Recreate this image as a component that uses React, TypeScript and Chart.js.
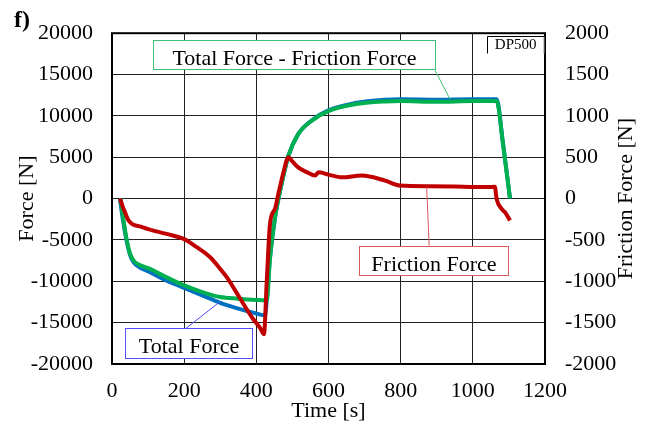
import React, { useEffect, useRef } from 'react';
import { Chart, registerables } from 'chart.js';

Chart.register(...registerables);

// ---- data ----
const totalTime = [22, 30, 40, 50, 60, 80, 105, 150, 200, 250, 300, 350, 400, 420, 425, 431, 438, 452, 470, 489, 516, 553, 601, 673, 757, 800, 900, 1000, 1066, 1083, 1103];
const totalForce = [0, -2500, -5000, -6800, -7700, -8400, -8900, -9900, -10800, -11700, -12600, -13300, -13900, -14100, -14000, -11000, -7100, -2260, 1780, 5200, 7800, 9450, 10700, 11550, 11950, 12000, 11950, 12000, 12000, 6900, 0];

const netTime = [24, 30, 40, 50, 60, 80, 105, 150, 200, 250, 300, 350, 400, 425, 429, 438, 452, 470, 489, 516, 553, 601, 673, 757, 800, 900, 1000, 1066, 1083, 1103];
const netForce = [0, -2000, -4800, -6650, -7500, -8100, -8500, -9500, -10500, -11300, -11900, -12100, -12250, -12300, -12300, -7100, -2260, 1780, 5200, 7800, 9400, 10600, 11400, 11750, 11800, 11700, 11800, 11800, 6800, 0];

const frictionTime = [22, 30, 36, 45, 55, 80, 100, 151, 200, 235, 272, 300, 318, 340, 364, 390, 410, 421, 429, 438, 452, 461, 474, 489, 498, 516, 540, 563, 572, 600, 637, 692, 757, 798, 881, 950, 1011, 1040, 1061, 1066, 1080, 1090, 1103];
const frictionForce = [0, -100, -165, -260, -305, -340, -370, -427, -490, -588, -709, -850, -950, -1100, -1272, -1450, -1560, -1640, -990, -300, -120, 57, 298, 499, 459, 378, 320, 278, 318, 290, 257, 278, 217, 157, 149, 145, 140, 140, 143, -4, -125, -170, -266];

const xTickValues = [0, 200, 400, 600, 800, 1000, 1200];
const forceTickValues = [-20000, -15000, -10000, -5000, 0, 5000, 10000, 15000, 20000];
const frictionTickValues = [-2000, -1500, -1000, -500, 0, 500, 1000, 1500, 2000];

const seriesNames = ['Friction Force', 'Total Force - Friction Force', 'Total Force'];

// annotation callouts, in data units of the x / left-y scales
const callouts = [
  { text: 'Total Force - Friction Force', color: '#3fbf75', box: [114, 895, 19155, 15614], leader: [895, 15530, 937, 12000] },
  { text: 'Total Force', color: '#4f4fff', box: [36, 387, -15686, -19312], leader: [205, -15686, 299, -12471] },
  { text: 'Friction Force', color: '#d85a5a', box: [685, 1098, -5704, -9245], leader: [879, -5704, 872, 1450] },
];

const FONT = '"Liberation Serif", "Times New Roman", serif';

const toPts = (xs: number[], ys: number[]) => xs.map((x, i) => ({ x, y: ys[i] }));

const decorPlugin = {
  id: 'decor',
  afterDatasetsDraw(chart: any) {
    const { ctx, chartArea, scales } = chart;
    const sx = scales.x;
    const sy = scales.y;
    ctx.save();
    // plot frame
    ctx.strokeStyle = '#000';
    ctx.lineWidth = 2;
    ctx.strokeRect(chartArea.left, chartArea.top, chartArea.right - chartArea.left, chartArea.bottom - chartArea.top);

    // callouts
    for (const c of callouts) {
      const [bx0, bx1, by0, by1] = c.box;
      const [lx0, ly0, lx1, ly1] = c.leader;
      ctx.lineWidth = 1;
      ctx.strokeStyle = c.color;
      ctx.beginPath();
      ctx.moveTo(sx.getPixelForValue(lx0), sy.getPixelForValue(ly0));
      ctx.lineTo(sx.getPixelForValue(lx1), sy.getPixelForValue(ly1));
      ctx.stroke();
      const x0 = Math.round(sx.getPixelForValue(bx0)) + 0.5;
      const x1 = Math.round(sx.getPixelForValue(bx1)) + 0.5;
      const y0 = Math.round(sy.getPixelForValue(by0)) + 0.5;
      const y1 = Math.round(sy.getPixelForValue(by1)) + 0.5;
      ctx.fillStyle = '#fff';
      ctx.fillRect(x0, y0, x1 - x0, y1 - y0);
      ctx.strokeRect(x0, y0, x1 - x0, y1 - y0);
      ctx.fillStyle = '#000';
      ctx.font = `22px ${FONT}`;
      ctx.textAlign = 'center';
      ctx.textBaseline = 'alphabetic';
      ctx.fillText(c.text, (x0 + x1) / 2, (y0 + y1) / 2 + 9.5);
    }

    // DP500 tag
    const tx0 = Math.round(sx.getPixelForValue(1039)) + 0.5;
    const tx1 = chartArea.right - 1;
    const ty0 = Math.round(sy.getPixelForValue(19638)) + 0.5;
    const ty1 = Math.round(sy.getPixelForValue(17584)) + 0.5;
    ctx.lineWidth = 1;
    ctx.strokeStyle = '#999';
    ctx.beginPath();
    ctx.moveTo(tx1, ty0);
    ctx.lineTo(tx1, ty1);
    ctx.stroke();
    ctx.strokeStyle = '#000';
    ctx.beginPath();
    ctx.moveTo(tx0, ty1);
    ctx.lineTo(tx0, ty0);
    ctx.lineTo(tx1, ty0);
    ctx.stroke();
    ctx.fillStyle = '#000';
    ctx.font = `15px ${FONT}`;
    ctx.textAlign = 'left';
    ctx.textBaseline = 'middle';
    ctx.fillText('DP500', sx.getPixelForValue(1061), sy.getPixelForValue(18550));

    // panel letter
    ctx.font = `bold 24px ${FONT}`;
    ctx.textAlign = 'left';
    ctx.textBaseline = 'alphabetic';
    ctx.fillText('f)', 14, 27);

    // right axis title (reads bottom to top)
    const r = scales.y1;
    ctx.save();
    ctx.translate(r.right - 26, (chartArea.top + chartArea.bottom) / 2);
    ctx.rotate(-Math.PI / 2);
    ctx.font = `22px ${FONT}`;
    ctx.textAlign = 'center';
    ctx.textBaseline = 'middle';
    ctx.fillText('Friction Force [N]', 0, 0);
    ctx.restore();

    ctx.restore();
  },
};

export default function App() {
  const ref = useRef<HTMLCanvasElement | null>(null);

  useEffect(() => {
    document.body.style.margin = '0';
    const canvas = ref.current;
    if (!canvas) return;
    const tickFont = { family: FONT, size: 22 };
    const chart = new Chart(canvas, {
      type: 'line',
      data: {
        datasets: [
          {
            label: seriesNames[0],
            data: toPts(frictionTime, frictionForce),
            yAxisID: 'y1',
            borderColor: '#c00000',
            borderWidth: 4,
            pointRadius: 0,
            cubicInterpolationMode: 'monotone',
          },
          {
            label: seriesNames[1],
            data: toPts(netTime, netForce),
            yAxisID: 'y',
            borderColor: '#00b050',
            borderWidth: 4,
            pointRadius: 0,
            cubicInterpolationMode: 'monotone',
          },
          {
            label: seriesNames[2],
            data: toPts(totalTime, totalForce),
            yAxisID: 'y',
            borderColor: '#0070c0',
            borderWidth: 4,
            pointRadius: 0,
            cubicInterpolationMode: 'monotone',
          },
        ],
      },
      options: {
        animation: false,
        responsive: false,
        layout: { padding: { top: 33, left: 0, right: 0, bottom: 0 } },
        plugins: { legend: { display: false }, tooltip: { enabled: false } },
        scales: {
          x: {
            type: 'linear',
            min: 0,
            max: 1200,
            afterBuildTicks: (s: any) => { s.ticks = xTickValues.map((v) => ({ value: v })); },
            afterFit: (s: any) => { s.height = 63; },
            ticks: { font: tickFont, color: '#000', padding: 14, maxRotation: 0, callback: (v: any) => String(v) },
            grid: { color: '#222', lineWidth: 1, drawTicks: false },
            border: { display: false },
            title: { display: true, text: 'Time [s]', font: tickFont, color: '#000', padding: { top: 0, bottom: 3 } },
          },
          y: {
            position: 'left',
            min: -20000,
            max: 20000,
            afterBuildTicks: (s: any) => { s.ticks = forceTickValues.map((v) => ({ value: v })); },
            afterFit: (s: any) => { s.width = 112; },
            ticks: { font: tickFont, color: '#000', padding: 19, callback: (v: any) => String(v) },
            grid: { color: '#222', lineWidth: 1, drawTicks: false },
            border: { display: false },
            title: { display: true, text: 'Force [N]', font: tickFont, color: '#000', padding: { top: 14, bottom: 0 } },
          },
          y1: {
            position: 'right',
            min: -2000,
            max: 2000,
            afterBuildTicks: (s: any) => { s.ticks = frictionTickValues.map((v) => ({ value: v })); },
            afterFit: (s: any) => { s.width = 107; },
            ticks: { font: tickFont, color: '#000', padding: 20, callback: (v: any) => String(v) },
            grid: { display: false, drawTicks: false },
            border: { display: false },
          },
        },
      },
      plugins: [decorPlugin],
    } as any);
    return () => chart.destroy();
  }, []);

  return (
    <div style={{ width: 652, height: 427, background: '#fff' }}>
      <canvas ref={ref} width={652} height={427} />
    </div>
  );
}
